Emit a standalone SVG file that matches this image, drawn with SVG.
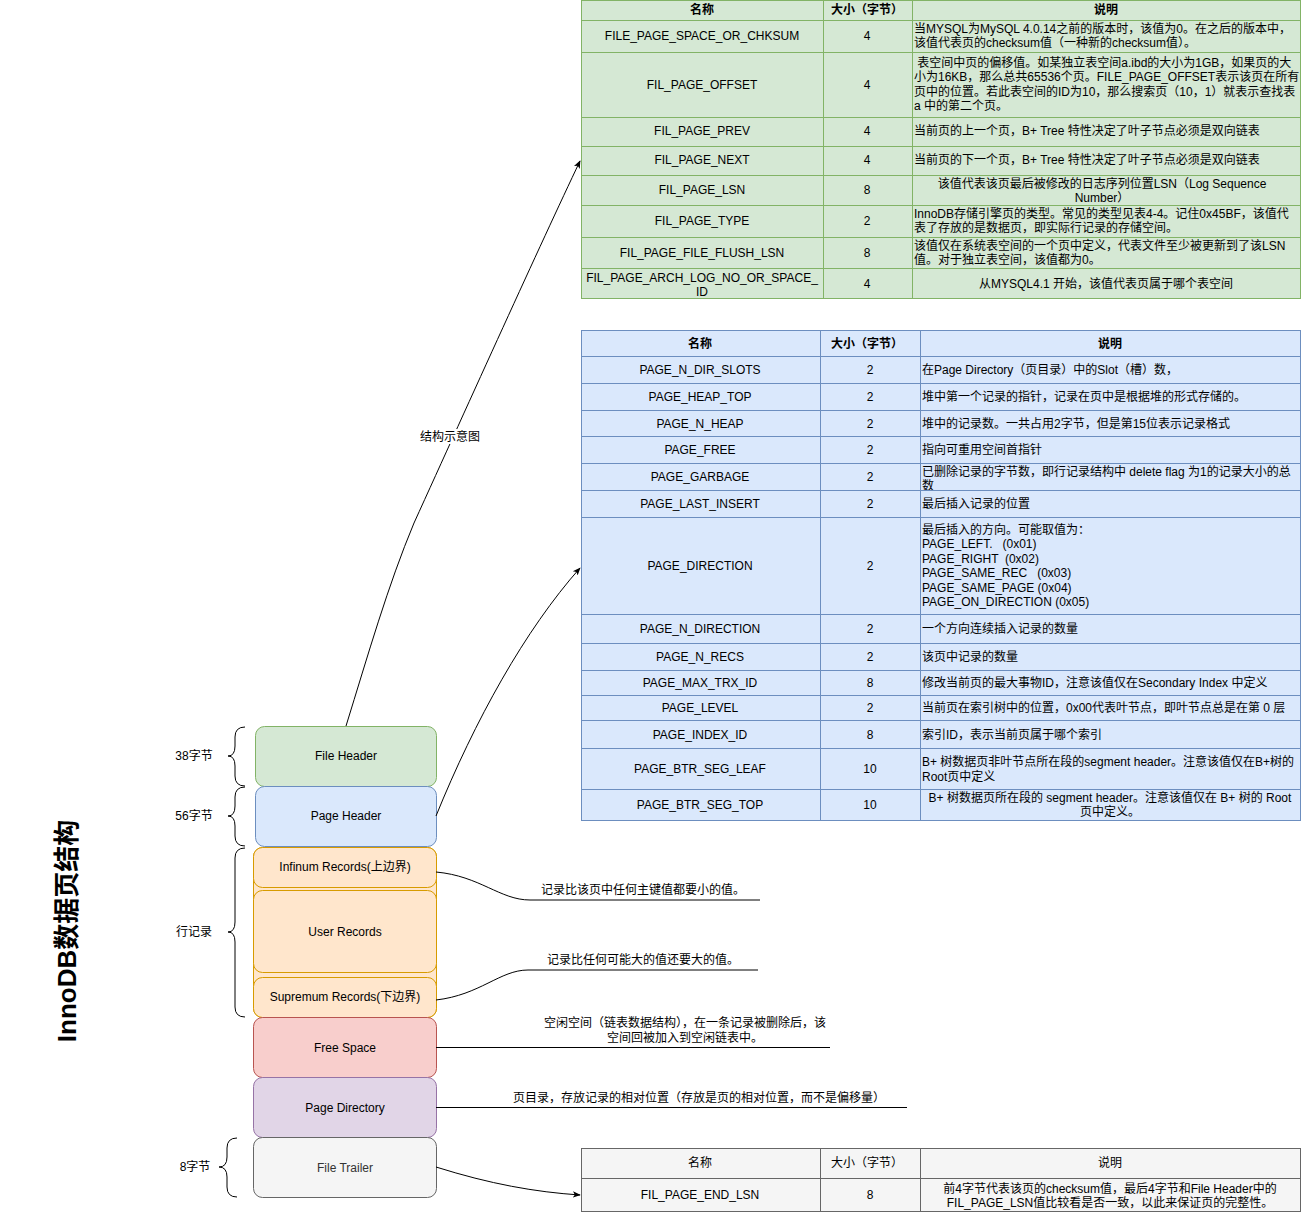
<svg xmlns="http://www.w3.org/2000/svg" width="1302" height="1213" viewBox="0 0 1302 1213">
<style>
text{font-family:"Liberation Sans","Noto Sans CJK SC",sans-serif;font-size:12px;fill:#000;dominant-baseline:central}
.c{text-anchor:middle}
.b{font-weight:bold}
.g rect,.g line{stroke:#82b366}
.bl rect,.bl line{stroke:#6c8ebf}
.gr rect,.gr line{stroke:#666666}
.edge{fill:none;stroke:#000;stroke-width:1}
.title{font-size:26px;font-weight:bold}
</style>
<defs>
<marker id="arr" viewBox="0 0 10 10" refX="9" refY="5" markerWidth="8" markerHeight="8" orient="auto" markerUnits="userSpaceOnUse">
<path d="M0,1 L10,5 L0,9 L2.5,5 Z" fill="#000"/>
</marker>
<clipPath id="clipG"><rect x="920" y="463" width="380" height="27"/></clipPath>
</defs>

<rect width="1302" height="1213" fill="#fff"/>

<!-- Title -->
<text class="title c" transform="translate(67,931) rotate(-90)">InnoDB数据页结构</text>

<!-- Left stack nodes -->
<g id="file-header">
<rect x="255.5" y="726.5" width="181" height="60" rx="9" fill="#d5e8d4" stroke="#82b366"/>
<text class="c" x="346" y="756">File Header</text>
</g>
<g id="page-header">
<rect x="255.5" y="786.5" width="181" height="60" rx="9" fill="#dae8fc" stroke="#6c8ebf"/>
<text class="c" x="346" y="816">Page Header</text>
</g>
<g id="row-records">
<rect x="253.5" y="847.5" width="183" height="170" rx="9" fill="#ffe6cc" stroke="#d79b00"/>
</g>
<g id="infinum">
<rect x="253.5" y="847.5" width="183" height="40" rx="9" fill="#ffe6cc" stroke="#d79b00"/>
<text class="c" x="345" y="867">Infinum Records(上边界)</text>
</g>
<g id="user-records">
<rect x="253.5" y="890.5" width="183" height="82" rx="9" fill="#ffe6cc" stroke="#d79b00"/>
<text class="c" x="345" y="932">User Records</text>
</g>
<g id="supremum">
<rect x="253.5" y="977.5" width="183" height="40" rx="9" fill="#ffe6cc" stroke="#d79b00"/>
<text class="c" x="345" y="997">Supremum Records(下边界)</text>
</g>
<g id="free-space">
<rect x="253.5" y="1017.5" width="183" height="60" rx="9" fill="#f8cecc" stroke="#b85450"/>
<text class="c" x="345" y="1048">Free Space</text>
</g>
<g id="page-directory">
<rect x="253.5" y="1077.5" width="183" height="60" rx="9" fill="#e1d5e7" stroke="#9673a6"/>
<text class="c" x="345" y="1108">Page Directory</text>
</g>
<g id="file-trailer">
<rect x="253.5" y="1137.5" width="183" height="60" rx="9" fill="#f5f5f5" stroke="#666666"/>
<text class="c" x="345" y="1168" style="fill:#333333">File Trailer</text>
</g>

<!-- Braces -->
<g id="braces" fill="none" stroke="#000" stroke-width="1">
<path d="M245,727 Q235,727 235,737 L235,746 Q235,756 228,756 Q235,756 235,766 L235,776 Q235,786 245,786"/>
<path d="M245,787 Q235,787 235,797 L235,806 Q235,816 228,816 Q235,816 235,826 L235,836 Q235,846 245,846"/>
<path d="M245,848 Q235,848 235,858 L235,922 Q235,932 228,932 Q235,932 235,942 L235,1007 Q235,1017 245,1017"/>
<path d="M237,1138 Q227,1138 227,1148 L227,1157 Q227,1167 219,1167 Q227,1167 227,1177 L227,1187 Q227,1197 237,1197"/>
</g>
<g id="brace-labels">
<text class="c" x="194" y="756">38字节</text>
<text class="c" x="194" y="816">56字节</text>
<text class="c" x="194" y="932">行记录</text>
<text class="c" x="195" y="1167">8字节</text>
</g>

<!-- File Header table -->
<g id="file-header-table" class="g">
<rect x="581.5" y="0.5" width="719" height="298" fill="#d5e8d4"/>
<line x1="581" y1="20.5" x2="1300" y2="20.5"/>
<line x1="581" y1="52.5" x2="1300" y2="52.5"/>
<line x1="581" y1="117.5" x2="1300" y2="117.5"/>
<line x1="581" y1="146.5" x2="1300" y2="146.5"/>
<line x1="581" y1="175.5" x2="1300" y2="175.5"/>
<line x1="581" y1="205.5" x2="1300" y2="205.5"/>
<line x1="581" y1="237.5" x2="1300" y2="237.5"/>
<line x1="581" y1="268.5" x2="1300" y2="268.5"/>
<line x1="823.5" y1="0" x2="823.5" y2="299"/>
<line x1="912.5" y1="0" x2="912.5" y2="299"/>
<text class="c b" x="702" y="10">名称</text>
<text class="c b" x="867" y="10">大小（字节）</text>
<text class="c b" x="1106" y="10">说明</text>
<text class="c" x="702" y="36">FILE_PAGE_SPACE_OR_CHKSUM</text>
<text class="c" x="867" y="36">4</text>
<text x="914" y="29">当MYSQL为MySQL 4.0.14之前的版本时，该值为0。在之后的版本中，</text>
<text x="914" y="43">该值代表页的checksum值（一种新的checksum值）。</text>
<text class="c" x="702" y="85">FIL_PAGE_OFFSET</text>
<text class="c" x="867" y="85">4</text>
<text x="914" y="63" xml:space="preserve"> 表空间中页的偏移值。如某独立表空间a.ibd的大小为1GB，如果页的大</text>
<text x="914" y="77">小为16KB，那么总共65536个页。FILE_PAGE_OFFSET表示该页在所有</text>
<text x="914" y="92">页中的位置。若此表空间的ID为10，那么搜索页（10，1）就表示查找表</text>
<text x="914" y="106">a 中的第二个页。</text>
<text class="c" x="702" y="131">FIL_PAGE_PREV</text>
<text class="c" x="867" y="131">4</text>
<text x="914" y="131">当前页的上一个页，B+ Tree 特性决定了叶子节点必须是双向链表</text>
<text class="c" x="702" y="160">FIL_PAGE_NEXT</text>
<text class="c" x="867" y="160">4</text>
<text x="914" y="160">当前页的下一个页，B+ Tree 特性决定了叶子节点必须是双向链表</text>
<text class="c" x="702" y="190">FIL_PAGE_LSN</text>
<text class="c" x="867" y="190">8</text>
<text class="c" x="1102" y="184">该值代表该页最后被修改的日志序列位置LSN（Log Sequence</text>
<text class="c" x="1102" y="198">Number）</text>
<text class="c" x="702" y="221">FIL_PAGE_TYPE</text>
<text class="c" x="867" y="221">2</text>
<text x="914" y="214">InnoDB存储引擎页的类型。常见的类型见表4-4。记住0x45BF，该值代</text>
<text x="914" y="228">表了存放的是数据页，即实际行记录的存储空间。</text>
<text class="c" x="702" y="253">FIL_PAGE_FILE_FLUSH_LSN</text>
<text class="c" x="867" y="253">8</text>
<text x="914" y="246">该值仅在系统表空间的一个页中定义，代表文件至少被更新到了该LSN</text>
<text x="914" y="260">值。对于独立表空间，该值都为0。</text>
<text class="c" x="702" y="278">FIL_PAGE_ARCH_LOG_NO_OR_SPACE_</text>
<text class="c" x="702" y="292">ID</text>
<text class="c" x="867" y="284">4</text>
<text class="c" x="1106" y="284">从MYSQL4.1 开始，该值代表页属于哪个表空间</text>
</g>

<!-- Page Header table -->
<g id="page-header-table" class="bl">
<rect x="581.5" y="330.5" width="719" height="490" fill="#dae8fc"/>
<line x1="581" y1="356.5" x2="1300" y2="356.5"/>
<line x1="581" y1="383.5" x2="1300" y2="383.5"/>
<line x1="581" y1="410.5" x2="1300" y2="410.5"/>
<line x1="581" y1="436.5" x2="1300" y2="436.5"/>
<line x1="581" y1="463.5" x2="1300" y2="463.5"/>
<line x1="581" y1="490.5" x2="1300" y2="490.5"/>
<line x1="581" y1="517.5" x2="1300" y2="517.5"/>
<line x1="581" y1="614.5" x2="1300" y2="614.5"/>
<line x1="581" y1="643.5" x2="1300" y2="643.5"/>
<line x1="581" y1="670.5" x2="1300" y2="670.5"/>
<line x1="581" y1="695.5" x2="1300" y2="695.5"/>
<line x1="581" y1="720.5" x2="1300" y2="720.5"/>
<line x1="581" y1="748.5" x2="1300" y2="748.5"/>
<line x1="581" y1="789.5" x2="1300" y2="789.5"/>
<line x1="820.5" y1="330" x2="820.5" y2="821"/>
<line x1="920.5" y1="330" x2="920.5" y2="821"/>
<text class="c b" x="700" y="344">名称</text>
<text class="c b" x="867" y="344">大小（字节）</text>
<text class="c b" x="1110" y="344">说明</text>
<text class="c" x="700" y="370">PAGE_N_DIR_SLOTS</text>
<text class="c" x="870" y="370">2</text>
<text x="922" y="370">在Page Directory（页目录）中的Slot（槽）数，</text>
<text class="c" x="700" y="397">PAGE_HEAP_TOP</text>
<text class="c" x="870" y="397">2</text>
<text x="922" y="397">堆中第一个记录的指针，记录在页中是根据堆的形式存储的。</text>
<text class="c" x="700" y="424">PAGE_N_HEAP</text>
<text class="c" x="870" y="424">2</text>
<text x="922" y="424">堆中的记录数。一共占用2字节，但是第15位表示记录格式</text>
<text class="c" x="700" y="450">PAGE_FREE</text>
<text class="c" x="870" y="450">2</text>
<text x="922" y="450">指向可重用空间首指针</text>
<text class="c" x="700" y="477">PAGE_GARBAGE</text>
<text class="c" x="870" y="477">2</text>
<text x="922" y="472">已删除记录的字节数，即行记录结构中 delete flag 为1的记录大小的总</text>
<text x="922" y="486" clip-path="url(#clipG)">数</text>
<text class="c" x="700" y="504">PAGE_LAST_INSERT</text>
<text class="c" x="870" y="504">2</text>
<text x="922" y="504">最后插入记录的位置</text>
<text class="c" x="700" y="566">PAGE_DIRECTION</text>
<text class="c" x="870" y="566">2</text>
<text x="922" y="530">最后插入的方向。可能取值为：</text>
<text x="922" y="544" xml:space="preserve">PAGE_LEFT.   (0x01)</text>
<text x="922" y="559" xml:space="preserve">PAGE_RIGHT  (0x02)</text>
<text x="922" y="573" xml:space="preserve">PAGE_SAME_REC   (0x03)</text>
<text x="922" y="588" xml:space="preserve">PAGE_SAME_PAGE (0x04)</text>
<text x="922" y="602" xml:space="preserve">PAGE_ON_DIRECTION (0x05)</text>
<text class="c" x="700" y="629">PAGE_N_DIRECTION</text>
<text class="c" x="870" y="629">2</text>
<text x="922" y="629">一个方向连续插入记录的数量</text>
<text class="c" x="700" y="657">PAGE_N_RECS</text>
<text class="c" x="870" y="657">2</text>
<text x="922" y="657">该页中记录的数量</text>
<text class="c" x="700" y="683">PAGE_MAX_TRX_ID</text>
<text class="c" x="870" y="683">8</text>
<text x="922" y="683">修改当前页的最大事物ID，注意该值仅在Secondary Index 中定义</text>
<text class="c" x="700" y="708">PAGE_LEVEL</text>
<text class="c" x="870" y="708">2</text>
<text x="922" y="708">当前页在索引树中的位置，0x00代表叶节点，即叶节点总是在第 0 层</text>
<text class="c" x="700" y="735">PAGE_INDEX_ID</text>
<text class="c" x="870" y="735">8</text>
<text x="922" y="735">索引ID，表示当前页属于哪个索引</text>
<text class="c" x="700" y="769">PAGE_BTR_SEG_LEAF</text>
<text class="c" x="870" y="769">10</text>
<text x="922" y="762">B+ 树数据页非叶节点所在段的segment header。注意该值仅在B+树的</text>
<text x="922" y="777">Root页中定义</text>
<text class="c" x="700" y="805">PAGE_BTR_SEG_TOP</text>
<text class="c" x="870" y="805">10</text>
<text class="c" x="1110" y="798">B+ 树数据页所在段的 segment header。注意该值仅在 B+ 树的 Root</text>
<text class="c" x="1110" y="812">页中定义。</text>
</g>

<!-- File Trailer table -->
<g id="file-trailer-table" class="gr">
<rect x="581.5" y="1148.5" width="719" height="63" fill="#f5f5f5"/>
<line x1="581" y1="1178.5" x2="1300" y2="1178.5"/>
<line x1="820.5" y1="1148" x2="820.5" y2="1212"/>
<line x1="920.5" y1="1148" x2="920.5" y2="1212"/>
<text class="c" x="700" y="1163">名称</text>
<text class="c" x="867" y="1163">大小（字节）</text>
<text class="c" x="1110" y="1163">说明</text>
<text class="c" x="700" y="1195">FIL_PAGE_END_LSN</text>
<text class="c" x="870" y="1195">8</text>
<text class="c" x="1110" y="1189">前4字节代表该页的checksum值，最后4字节和File Header中的</text>
<text class="c" x="1110" y="1203">FIL_PAGE_LSN值比较看是否一致，以此来保证页的完整性。</text>
</g>

<!-- Connectors -->
<g id="connectors">
<path class="edge" d="M346,726 C368,655 388,585 414,523 C470,400 540,245 580,161" marker-end="url(#arr)"/>
<rect x="419" y="429" width="62" height="15" fill="#fff"/>
<text class="c" x="450" y="437">结构示意图</text>
<path class="edge" d="M436,816 C475,720 525,630 580,568" marker-end="url(#arr)"/>
<path class="edge" d="M436,872 C480,876 500,900 530,900 L760,900"/>
<text class="c" x="643" y="890">记录比该页中任何主键值都要小的值。</text>
<path class="edge" d="M436,1000 C480,995 500,970 528,970 L758,970"/>
<text class="c" x="643" y="960">记录比任何可能大的值还要大的值。</text>
<path class="edge" d="M436,1047.5 L830,1047.5"/>
<text class="c" x="685" y="1023">空闲空间（链表数据结构），在一条记录被删除后，该</text>
<text class="c" x="685" y="1038">空间回被加入到空闲链表中。</text>
<path class="edge" d="M436,1107.5 L907,1107.5"/>
<text class="c" x="699" y="1098">页目录，存放记录的相对位置（存放是页的相对位置，而不是偏移量）</text>
<path class="edge" d="M436,1167 C490,1184 535,1192 580,1195" marker-end="url(#arr)"/>
</g>
</svg>
